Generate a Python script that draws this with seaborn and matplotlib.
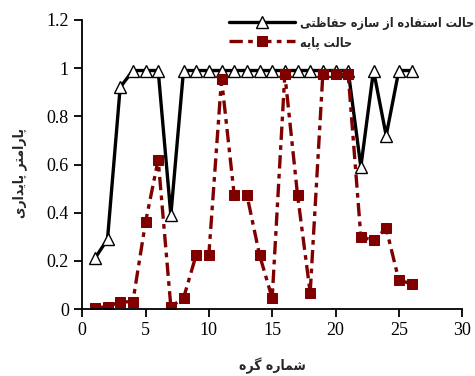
import matplotlib
matplotlib.use("Agg")
import pandas as pd
import matplotlib.pyplot as plt
import seaborn as sns
from matplotlib.ticker import FuncFormatter

# node numbers and stability parameter for the two cases
nodes = list(range(1, 27))
protected = [0.21, 0.29, 0.92, 0.99, 0.99, 0.99, 0.39, 0.99, 0.99, 0.99,
             0.99, 0.99, 0.99, 0.99, 0.99, 0.99, 0.99, 0.99, 0.99, 0.99,
             0.99, 0.59, 0.99, 0.72, 0.99, 0.99]
base = [0.005, 0.01, 0.03, 0.03, 0.36, 0.62, 0.01, 0.045, 0.225, 0.225,
        0.955, 0.475, 0.475, 0.225, 0.045, 0.975, 0.475, 0.068, 0.975, 0.975,
        0.975, 0.30, 0.285, 0.335, 0.12, 0.105]

label_protected = "حالت استفاده از سازه حفاظتی"
label_base = "حالت پایه"
xlabel = "شماره گره"
ylabel = "پارامتر پایداری"

# minimal Persian shaping (matplotlib does not shape Arabic script)
FORMS = {
    "ا": ("\uFE8D", "\uFE8E", None, None),
    "د": ("\uFEA9", "\uFEAA", None, None),
    "ز": ("\uFEAF", "\uFEB0", None, None),
    "ر": ("\uFEAD", "\uFEAE", None, None),
    "ح": ("\uFEA1", "\uFEA2", "\uFEA3", "\uFEA4"),
    "ل": ("\uFEDD", "\uFEDE", "\uFEDF", "\uFEE0"),
    "ت": ("\uFE95", "\uFE96", "\uFE97", "\uFE98"),
    "س": ("\uFEB1", "\uFEB2", "\uFEB3", "\uFEB4"),
    "ف": ("\uFED1", "\uFED2", "\uFED3", "\uFED4"),
    "ه": ("\uFEE9", "\uFEEA", "\uFEEB", "\uFEEC"),
    "ظ": ("\uFEC5", "\uFEC6", "\uFEC7", "\uFEC8"),
    "ی": ("\uFBFC", "\uFBFD", "\uFBFE", "\uFBFF"),
    "پ": ("\uFB56", "\uFB57", "\uFB58", "\uFB59"),
    "م": ("\uFEE1", "\uFEE2", "\uFEE3", "\uFEE4"),
    "ش": ("\uFEB5", "\uFEB6", "\uFEB7", "\uFEB8"),
    "گ": ("\uFB92", "\uFB93", "\uFB94", "\uFB95"),
}


def shape(text):
    out = []
    for i, ch in enumerate(text):
        if ch not in FORMS:
            out.append(ch)
            continue
        prev = text[i - 1] if i > 0 else " "
        nxt = text[i + 1] if i + 1 < len(text) else " "
        joins_prev = prev in FORMS and FORMS[prev][2] is not None
        joins_next = FORMS[ch][2] is not None and nxt in FORMS
        iso, fin, ini, med = FORMS[ch]
        if joins_prev and joins_next:
            out.append(med)
        elif joins_prev:
            out.append(fin)
        elif joins_next:
            out.append(ini)
        else:
            out.append(iso)
    return "".join(out)[::-1]


sns.set_style("ticks")
plt.rcParams["font.family"] = ["Liberation Serif", "DejaVu Sans"]
fa_font = dict(family="DejaVu Sans", weight="bold", stretch="condensed")

df = pd.DataFrame({"node": nodes, "protected": protected, "base": base})

fig = plt.figure(figsize=(4.75, 3.76), dpi=100)
ax = fig.add_axes([0.173, 0.178, 0.80, 0.769])

sns.lineplot(data=df, x="node", y="protected", ax=ax, color="black",
             linewidth=2.4, marker="^", markersize=9, markerfacecolor="white",
             markeredgecolor="black", markeredgewidth=1.0,
             label=shape(label_protected))
sns.lineplot(data=df, x="node", y="base", ax=ax, color="#800000",
             linewidth=2.4, linestyle=(0, (4, 1.6, 1.4, 1.6)), marker="s",
             markersize=7.5, markeredgecolor="#800000",
             label=shape(label_base))

ax.set_xlim(0, 30)
ax.set_ylim(0, 1.2)
ax.set_xticks(range(0, 31, 5))
ax.set_yticks([0, 0.2, 0.4, 0.6, 0.8, 1.0, 1.2])
ax.yaxis.set_major_formatter(FuncFormatter(lambda v, p: "%g" % v))
ax.tick_params(labelsize=13, direction="out", length=6, width=1.3, colors="black")
for s in ["left", "bottom"]:
    ax.spines[s].set_linewidth(1.3)
    ax.spines[s].set_color("black")
sns.despine(ax=ax)

ax.set_xlabel(shape(xlabel), fontsize=10, labelpad=13, **fa_font)
ax.set_ylabel(shape(ylabel), fontsize=10, labelpad=14, **fa_font)
ax.yaxis.label.set_y(0.47)

ax.get_legend().remove()
handles, labels = ax.get_legend_handles_labels()
fig.legend(handles, labels, loc="upper right", bbox_to_anchor=(1.022, 0.986),
           frameon=False, handlelength=5.3, handletextpad=0.4,
           labelspacing=0.5,
           prop=dict(family="DejaVu Sans", weight="bold", stretch="condensed",
                     size=9))

plt.savefig("out.png", dpi=100)
